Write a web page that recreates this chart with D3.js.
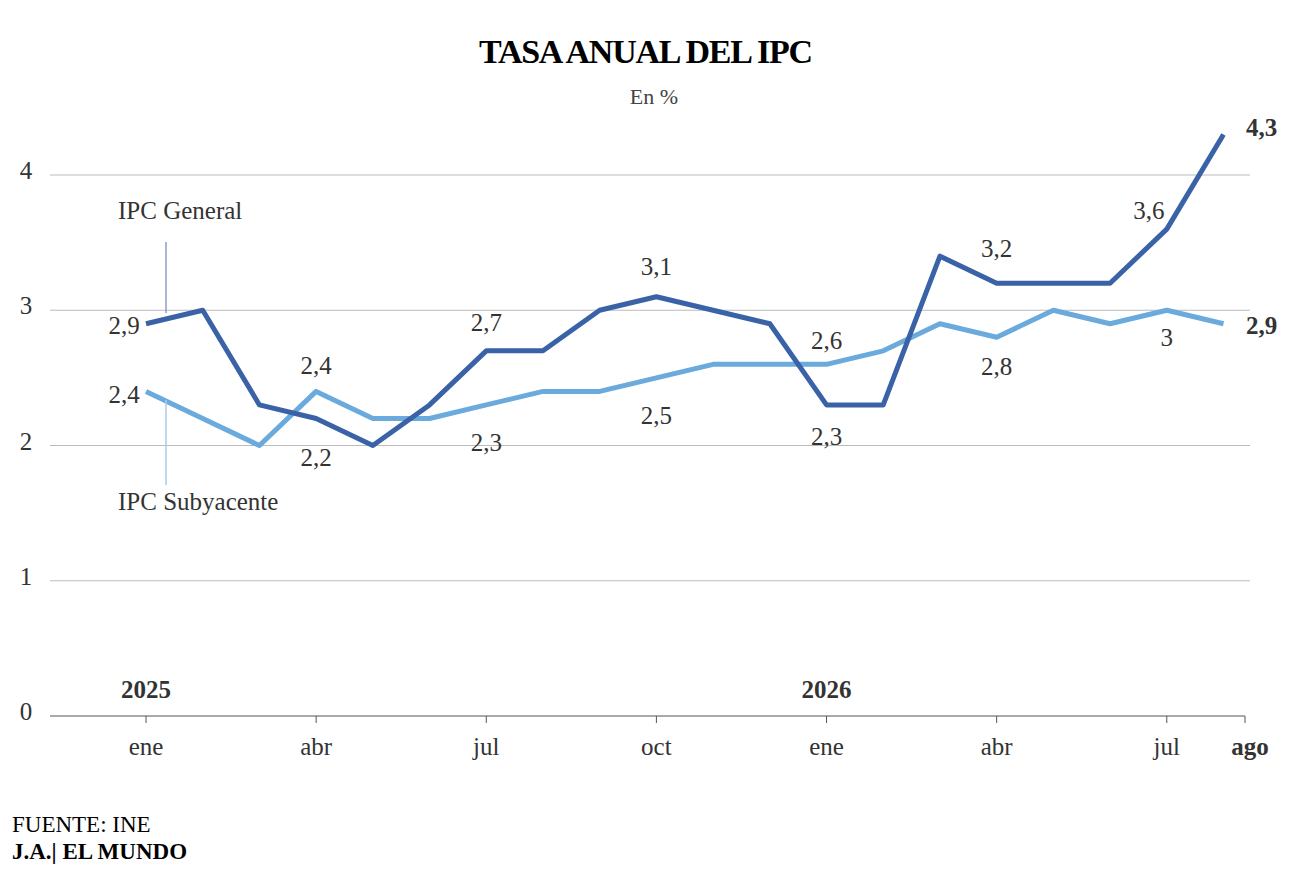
<!DOCTYPE html>
<html lang="es">
<head>
<meta charset="UTF-8">
<style>
  body { margin: 0; background: #fff; font-family: "Liberation Serif", "DejaVu Serif", serif; color: #222; }
  .grid line { stroke: #bbb; stroke-width: 1; }
  .lbl { font-size: 25px; fill: #333; }
</style>
</head>
<body>
<svg width="1292" height="894"></svg>
<script src="https://d3js.org/d3.v7.min.js"></script>
<script>
  const months = ["ene","feb","mar","abr","may","jun","jul","ago","sep","oct","nov","dic",
                  "ene","feb","mar","abr","may","jun","jul","ago"];
  const general = [2.9,3.0,2.3,2.2,2.0,2.3,2.7,2.7,3.0,3.1,3.0,2.9,2.3,2.3,3.4,3.2,3.2,3.2,3.6,4.3];
  const subyacente = [2.4,2.2,2.0,2.4,2.2,2.2,2.3,2.4,2.4,2.5,2.6,2.6,2.6,2.7,2.9,2.8,3.0,2.9,3.0,2.9];
  const yTicks = [0,1,2,3,4];
  const tickIdx = [0,3,6,9,12,15,18];
  // annotations: [index, text, dx, dy, anchor]
  const genLabels = [[0,"2,9",-22,10,"middle"],[3,"2,2",0,48,"middle"],[6,"2,7",0,-20,"middle"],
    [9,"3,1",0,-22,"middle"],[12,"2,3",0,40,"middle"],[15,"3,2",0,-26,"middle"],[18,"3,6",-18,-10,"middle"]];
  const subLabels = [[0,"2,4",-22,12,"middle"],[3,"2,4",0,-17,"middle"],[6,"2,3",0,46,"middle"],
    [9,"2,5",0,46,"middle"],[12,"2,6",0,-15,"middle"],[15,"2,8",0,38,"middle"],[18,"3",0,36,"middle"]];

  const cGen = "#3a62a6", cSub = "#6aaadd";
  const svg = d3.select("svg");
  const x = d3.scaleLinear().domain([0, 19]).range([146, 1223.5]);
  const y = d3.scaleLinear().domain([0, 4]).range([716, 175]);

  svg.append("text").attr("x", 646).attr("y", 63).attr("text-anchor", "middle")
    .attr("font-size", 34).attr("font-weight", "bold").attr("textLength", 334).text("TASA ANUAL DEL IPC");
  svg.append("text").attr("x", 654).attr("y", 104).attr("text-anchor", "middle")
    .attr("font-size", 22).attr("fill", "#444").text("En %");

  const grid = svg.append("g").attr("class", "grid");
  grid.selectAll("line").data(yTicks.filter(d => d > 0)).join("line")
    .attr("x1", 50).attr("x2", 1250).attr("y1", d => y(d)).attr("y2", d => y(d));
  svg.selectAll(".yt").data(yTicks).join("text").attr("class", "lbl")
    .attr("x", 26).attr("y", d => y(d) + 4).attr("text-anchor", "middle").text(d => d);

  svg.append("line").attr("x1", 50).attr("x2", 1245).attr("y1", y(0)).attr("y2", y(0)).attr("stroke", "#555");
  const tks = tickIdx.map(i => x(i)).concat([1245]);
  svg.selectAll(".xt").data(tks).join("line").attr("x1", d => d).attr("x2", d => d)
    .attr("y1", y(0)).attr("y2", y(0) + 7).attr("stroke", "#555");
  svg.selectAll(".xl").data(tickIdx).join("text").attr("class", "lbl")
    .attr("x", d => x(d)).attr("y", 755).attr("text-anchor", "middle").text(d => months[d]);
  svg.append("text").attr("class", "lbl").attr("x", 1250).attr("y", 755).attr("text-anchor", "middle")
    .attr("font-weight", "bold").text(months[19]);
  svg.append("text").attr("class", "lbl").attr("x", x(0)).attr("y", 698).attr("text-anchor", "middle")
    .attr("font-weight", "bold").text("2025");
  svg.append("text").attr("class", "lbl").attr("x", x(12)).attr("y", 698).attr("text-anchor", "middle")
    .attr("font-weight", "bold").text("2026");

  const line = d3.line().x((d, i) => x(i)).y(d => y(d));
  svg.append("path").datum(subyacente).attr("d", line).attr("fill", "none")
    .attr("stroke", cSub).attr("stroke-width", 5).attr("stroke-linejoin", "round");
  svg.append("path").datum(general).attr("d", line).attr("fill", "none")
    .attr("stroke", cGen).attr("stroke-width", 5).attr("stroke-linejoin", "round");

  function annotate(arr, data) {
    arr.forEach(([i, t, dx, dy, a]) => {
      svg.append("text").attr("class", "lbl").attr("x", x(i) + dx).attr("y", y(data[i]) + dy)
        .attr("text-anchor", a).text(t);
    });
  }
  annotate(genLabels, general);
  annotate(subLabels, subyacente);
  svg.append("text").attr("class", "lbl").attr("x", 1246).attr("y", y(general[19]) + 2)
    .attr("font-weight", "bold").text("4,3");
  svg.append("text").attr("class", "lbl").attr("x", 1246).attr("y", y(subyacente[19]) + 10)
    .attr("font-weight", "bold").text("2,9");

  svg.append("text").attr("class", "lbl").attr("x", 118).attr("y", 219).text("IPC General");
  svg.append("line").attr("x1", 166).attr("x2", 166).attr("y1", 242).attr("y2", 313)
    .attr("stroke", "#8a9cc8").attr("stroke-width", 1.5);
  svg.append("text").attr("class", "lbl").attr("x", 118).attr("y", 510).text("IPC Subyacente");
  svg.append("line").attr("x1", 166).attr("x2", 166).attr("y1", 400).attr("y2", 485)
    .attr("stroke", "#a8cdea").attr("stroke-width", 1.5);

  svg.append("text").attr("x", 12).attr("y", 832).attr("font-size", 23).text("FUENTE: INE");
  svg.append("text").attr("x", 12).attr("y", 859).attr("font-size", 23).attr("font-weight", "bold").text("J.A.| EL MUNDO");
</script>
</body>
</html>
